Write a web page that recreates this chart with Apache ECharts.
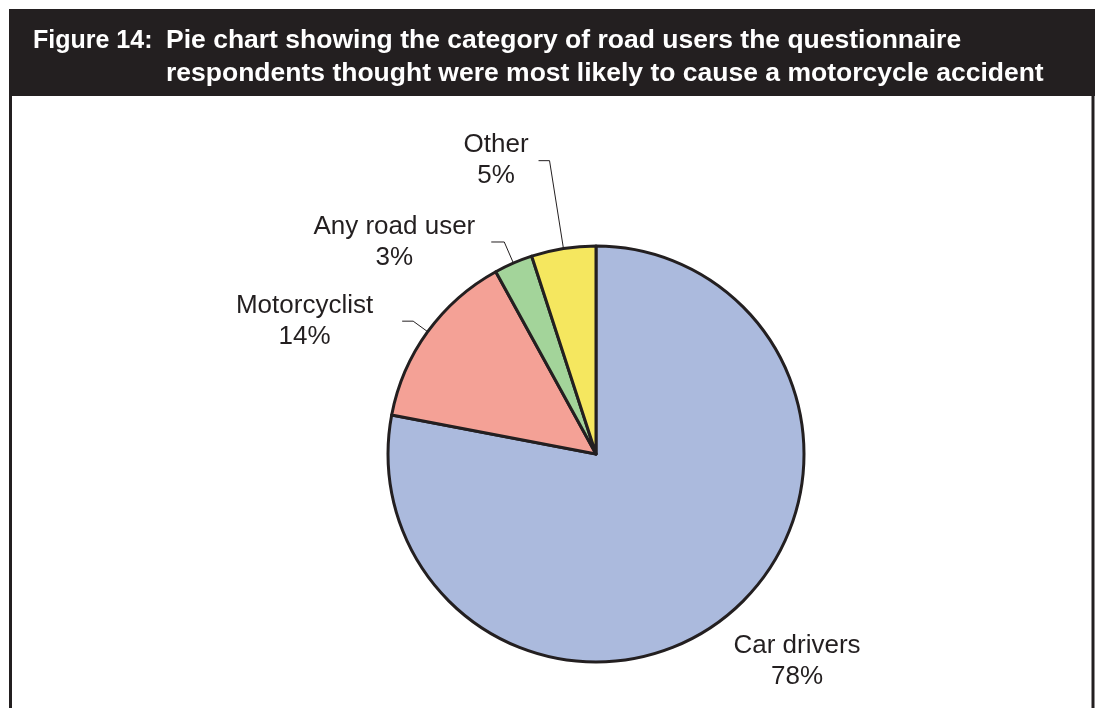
<!DOCTYPE html>
<html>
<head>
<meta charset="utf-8">
<title>Figure 14</title>
<script src="https://cdn.jsdelivr.net/npm/echarts@6/dist/echarts.min.js"></script>
<style>
  html, body { margin: 0; padding: 0; background: #fff; }
  #chart { width: 1095px; height: 708px; }
</style>
</head>
<body>
<div id="chart"></div>
<script>
// data
const categories = ['Car drivers', 'Motorcyclist', 'Any road user', 'Other'];
const shares = [78, 14, 3, 5];
const sliceColors = ['#abbadd', '#f4a196', '#a3d49a', '#f5e75f'];

const titleTag = 'Figure 14:';
const titleLines = [
  'Pie chart showing the category of road users the questionnaire',
  'respondents thought were most likely to cause a motorcycle accident'
];

const ink = '#231f20';
const labelFont = 'Liberation Sans, Arial, Helvetica, sans-serif';

// per slice label line: radial length, horizontal length, gap to text
const lineSpec = [
  { show: false, length: 61, length2: 0, gap: 5 },
  { show: true, length: 18, length2: 11, gap: 29 },
  { show: true, length: 23, length2: 13, gap: 16 },
  { show: true, length: 89, length2: 11, gap: 10 }
];

const myChart = echarts.init(document.getElementById('chart'));

const headerText = (text, x, y, size) => ({
  type: 'text',
  x: x,
  y: y,
  style: {
    text: text,
    fill: '#fff',
    font: 'bold ' + size + 'px ' + labelFont,
    verticalAlign: 'middle'
  }
});

const getOptions = () => {
  return {
    animation: false,
    graphic: [
      {
        type: 'rect',
        shape: { x: 9, y: 9, width: 1086, height: 87 },
        style: { fill: ink }
      },
      {
        type: 'line',
        shape: { x1: 10.5, y1: 96, x2: 10.5, y2: 708 },
        style: { stroke: ink, lineWidth: 3 }
      },
      {
        type: 'line',
        shape: { x1: 1093, y1: 96, x2: 1093, y2: 708 },
        style: { stroke: ink, lineWidth: 3 }
      },
      headerText(titleTag, 33, 41, 25),
      headerText(titleLines[0], 166, 41, 26.5),
      headerText(titleLines[1], 166, 74, 26.5)
    ],
    series: [
      {
        type: 'pie',
        center: [596, 454],
        radius: 208,
        startAngle: 90,
        clockwise: true,
        avoidLabelOverlap: false,
        itemStyle: {
          borderColor: ink,
          borderWidth: 3
        },
        label: {
          show: true,
          position: 'outside',
          formatter: (p) => '{t|' + p.name + '}\n{t|' + p.value + '%}',
          rich: {
            t: {
              align: 'center',
              fontFamily: labelFont,
              fontSize: 26,
              lineHeight: 31,
              color: ink
            }
          }
        },
        labelLine: {
          lineStyle: { color: ink, width: 1 }
        },
        labelLayout: (params) => {
          // Car drivers label sits lower right, a little in from the line end
          if (params.dataIndex === 0) {
            return { dx: -39 };
          }
          return {};
        },
        data: categories.map((name, i) => ({
          name: name,
          value: shares[i],
          itemStyle: { color: sliceColors[i] },
          label: { distanceToLabelLine: lineSpec[i].gap },
          labelLine: {
            show: lineSpec[i].show,
            length: lineSpec[i].length,
            length2: lineSpec[i].length2
          }
        }))
      }
    ]
  };
};

myChart.setOption(getOptions(), true);
</script>
</body>
</html>
